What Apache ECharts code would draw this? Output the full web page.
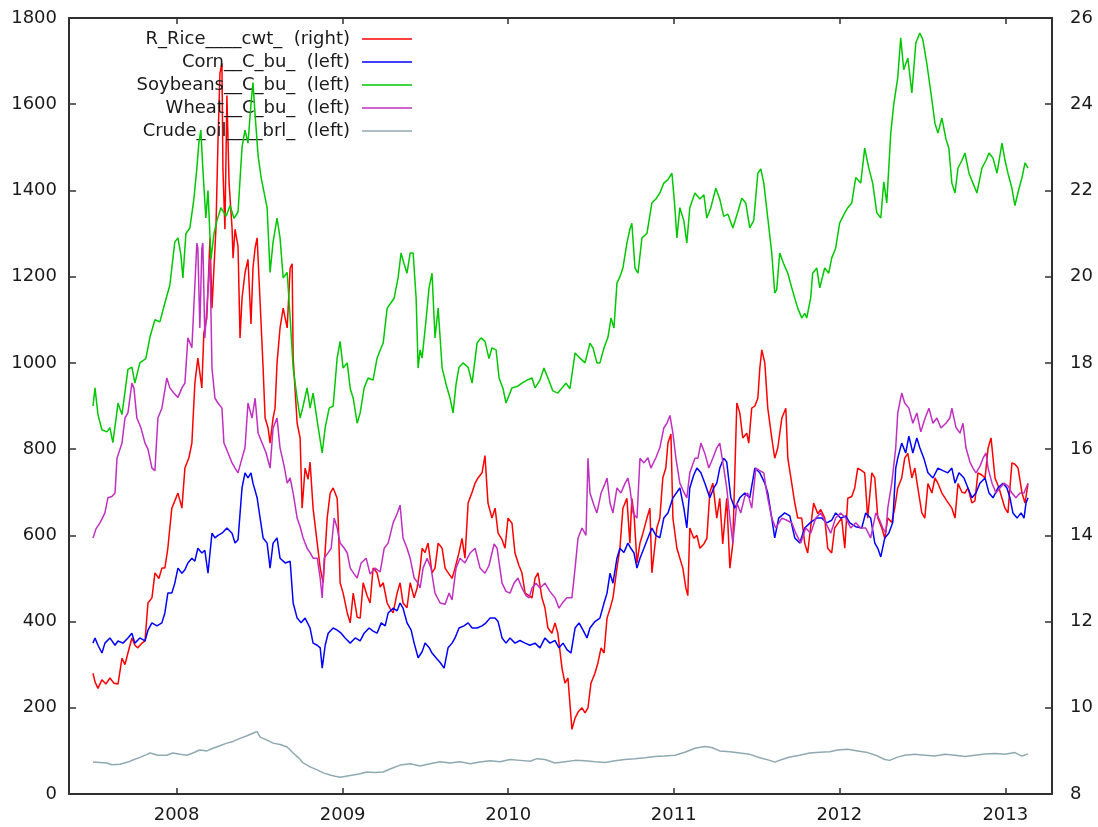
<!DOCTYPE html>
<html>
<head>
<meta charset="utf-8">
<script src="https://cdn.jsdelivr.net/npm/echarts@6/dist/echarts.min.js"></script>
<style>
html,body{margin:0;padding:0;background:#fff;}
#chart{width:1098px;height:827px;}
</style>
</head>
<body>
<div id="chart"></div>
<script>
// Series names (legend labels)
const seriesNames = [
  "R_Rice____cwt_  (right)",
  "Corn__C_bu_  (left)",
  "Soybeans__C_bu_  (left)",
  "Wheat__C_bu_  (left)",
  "Crude_oil____brl_  (left)"
];
const seriesColors = ["#ff0000", "#0000ff", "#00c800", "#c030c0", "#8fa9b3"];

// time as decimal year, value
const rice = [
[2007.495,10.8],[2007.507,10.6],[2007.525,10.45],[2007.549,10.65],[2007.573,10.55],[2007.597,10.69],[2007.622,10.57],[2007.646,10.55],
[2007.670,11.15],[2007.688,11.0],[2007.706,11.27],[2007.730,11.62],[2007.748,11.45],[2007.766,11.39],[2007.791,11.5],[2007.809,11.55],
[2007.827,12.43],[2007.851,12.55],[2007.869,13.13],[2007.893,13.0],[2007.911,13.24],[2007.929,13.24],[2007.947,13.7],[2007.971,14.63],
[2007.989,14.8],[2008.008,14.98],[2008.032,14.63],[2008.050,15.56],[2008.074,15.8],[2008.092,16.14],[2008.110,17.53],[2008.128,18.11],
[2008.152,17.42],[2008.164,18.69],[2008.182,19.04],[2008.195,20.3],[2008.201,20.9],[2008.213,19.27],[2008.237,21.13],[2008.249,23.1],
[2008.261,24.72],[2008.273,24.95],[2008.279,22.5],[2008.291,21.1],[2008.303,24.2],[2008.316,22.17],[2008.334,21.13],[2008.340,20.43],
[2008.352,21.1],[2008.370,20.7],[2008.382,18.58],[2008.394,19.5],[2008.412,20.09],[2008.430,20.4],[2008.448,18.9],[2008.460,20.2],
[2008.473,20.67],[2008.485,20.9],[2008.497,19.9],[2008.509,18.9],[2008.521,17.88],[2008.533,16.72],[2008.551,16.49],[2008.563,16.14],
[2008.581,16.72],[2008.593,16.95],[2008.605,18.0],[2008.623,18.81],[2008.642,19.27],[2008.654,19.04],[2008.666,18.81],[2008.684,20.2],
[2008.696,20.3],[2008.702,18.11],[2008.726,16.6],[2008.744,16.26],[2008.756,14.63],[2008.774,15.56],[2008.792,15.3],[2008.804,15.7],
[2008.822,14.63],[2008.847,13.82],[2008.865,13.24],[2008.883,12.9],[2008.907,14.4],[2008.925,14.98],[2008.943,15.1],[2008.967,14.86],
[2008.973,14.4],[2008.985,12.9],[2009.003,12.66],[2009.028,12.2],[2009.046,11.97],[2009.064,12.66],[2009.088,12.1],[2009.106,12.08],
[2009.124,12.9],[2009.148,12.6],[2009.166,12.43],[2009.184,13.24],[2009.208,13.13],[2009.227,12.8],[2009.245,12.9],[2009.269,12.43],
[2009.287,12.3],[2009.305,12.2],[2009.329,12.66],[2009.347,12.9],[2009.365,12.43],[2009.389,12.32],[2009.408,12.9],[2009.432,12.55],
[2009.450,12.78],[2009.468,13.24],[2009.480,13.7],[2009.498,13.6],[2009.516,13.82],[2009.540,13.13],[2009.558,13.24],[2009.577,13.82],
[2009.601,13.7],[2009.619,13.24],[2009.643,13.1],[2009.661,13.0],[2009.679,13.24],[2009.703,13.6],[2009.721,13.93],[2009.739,13.47],
[2009.758,14.75],[2009.782,15.0],[2009.800,15.21],[2009.818,15.33],[2009.842,15.45],[2009.860,15.85],[2009.878,14.75],[2009.902,14.4],
[2009.921,14.63],[2009.939,14.05],[2009.963,13.9],[2009.981,13.7],[2009.999,14.4],[2010.023,14.28],[2010.041,13.59],[2010.065,13.3],
[2010.083,13.13],[2010.102,12.66],[2010.126,12.6],[2010.144,12.55],[2010.162,13.0],[2010.180,13.13],[2010.204,12.55],[2010.222,12.32],
[2010.240,11.85],[2010.264,11.73],[2010.283,11.97],[2010.300,11.73],[2010.325,10.92],[2010.343,10.57],[2010.361,10.69],[2010.385,9.5],
[2010.404,9.76],[2010.422,9.9],[2010.446,10.0],[2010.464,9.88],[2010.482,10.0],[2010.500,10.57],[2010.524,10.8],[2010.542,11.04],
[2010.561,11.39],[2010.579,11.27],[2010.597,12.08],[2010.615,12.3],[2010.633,12.55],[2010.657,13.24],[2010.675,13.7],[2010.693,14.63],
[2010.717,14.86],[2010.735,13.82],[2010.747,14.86],[2010.760,14.5],[2010.778,13.36],[2010.796,13.82],[2010.814,14.05],[2010.838,14.4],
[2010.856,14.63],[2010.868,13.13],[2010.898,14.17],[2010.916,14.4],[2010.934,15.33],[2010.952,15.56],[2010.965,16.14],[2010.983,16.35],
[2010.995,14.4],[2011.019,13.7],[2011.037,13.47],[2011.055,13.24],[2011.073,12.78],[2011.085,12.6],[2011.097,14.17],[2011.121,13.93],
[2011.140,14.0],[2011.158,13.7],[2011.182,13.8],[2011.200,13.93],[2011.218,15.0],[2011.236,15.21],[2011.260,14.4],[2011.278,14.86],
[2011.296,13.8],[2011.320,14.86],[2011.339,13.24],[2011.357,13.82],[2011.381,17.07],[2011.399,16.84],[2011.417,16.26],[2011.441,16.37],
[2011.453,16.14],[2011.471,16.95],[2011.490,17.0],[2011.508,17.18],[2011.520,17.88],[2011.532,18.3],[2011.550,18.0],[2011.568,16.95],
[2011.592,16.26],[2011.610,15.79],[2011.628,16.02],[2011.653,16.72],[2011.677,16.95],[2011.689,15.79],[2011.713,15.2],[2011.731,14.75],
[2011.749,14.4],[2011.773,14.4],[2011.791,13.82],[2011.809,13.59],[2011.827,14.2],[2011.845,14.75],[2011.870,14.5],[2011.888,14.6],
[2011.912,14.4],[2011.930,13.7],[2011.954,13.59],[2011.972,14.17],[2011.996,14.3],[2012.014,14.4],[2012.033,13.7],[2012.051,14.86],
[2012.075,14.9],[2012.093,15.1],[2012.111,15.56],[2012.135,15.5],[2012.153,15.45],[2012.171,14.4],[2012.196,15.45],[2012.214,15.33],
[2012.232,14.4],[2012.256,14.17],[2012.274,13.93],[2012.292,14.4],[2012.316,14.3],[2012.334,14.63],[2012.352,15.1],[2012.376,15.33],
[2012.394,15.79],[2012.413,15.9],[2012.437,15.33],[2012.455,15.56],[2012.473,15.1],[2012.497,14.52],[2012.515,14.4],[2012.534,15.2],
[2012.558,14.98],[2012.576,15.33],[2012.594,15.21],[2012.618,14.98],[2012.648,14.8],[2012.678,14.63],[2012.697,14.4],[2012.715,15.2],
[2012.739,15.0],[2012.757,14.98],[2012.775,15.1],[2012.799,14.75],[2012.817,14.8],[2012.835,15.45],[2012.859,15.4],[2012.878,15.33],
[2012.896,16.02],[2012.914,16.26],[2012.938,15.33],[2012.962,15.1],[2012.980,14.86],[2012.998,14.63],[2013.016,14.52],[2013.040,15.68],
[2013.058,15.65],[2013.077,15.56],[2013.101,14.98],[2013.119,14.75],[2013.137,15.2]
];

const corn = [
[2007.495,350],[2007.507,362],[2007.525,345],[2007.549,327],[2007.567,350],[2007.597,362],[2007.628,345],[2007.646,355],
[2007.676,350],[2007.706,362],[2007.730,373],[2007.748,350],[2007.778,362],[2007.809,355],[2007.827,380],[2007.851,397],
[2007.881,390],[2007.911,397],[2007.929,420],[2007.947,466],[2007.971,466],[2007.989,489],[2008.008,524],[2008.032,512],
[2008.050,520],[2008.068,536],[2008.092,547],[2008.110,540],[2008.128,570],[2008.152,559],[2008.170,565],[2008.189,512],
[2008.213,605],[2008.231,594],[2008.249,600],[2008.273,605],[2008.303,617],[2008.334,605],[2008.352,582],[2008.370,590],
[2008.394,710],[2008.412,745],[2008.430,733],[2008.448,745],[2008.460,721],[2008.485,687],[2008.503,640],[2008.521,594],
[2008.545,582],[2008.563,524],[2008.581,582],[2008.605,594],[2008.623,547],[2008.654,536],[2008.684,540],[2008.702,443],
[2008.726,408],[2008.750,397],[2008.774,408],[2008.804,385],[2008.822,350],[2008.847,345],[2008.865,339],[2008.877,292],
[2008.895,345],[2008.913,373],[2008.943,385],[2008.967,380],[2008.991,373],[2009.015,362],[2009.046,350],[2009.076,362],
[2009.106,355],[2009.130,373],[2009.160,385],[2009.184,378],[2009.208,373],[2009.233,397],[2009.257,390],[2009.275,420],
[2009.305,431],[2009.329,425],[2009.347,443],[2009.365,431],[2009.389,397],[2009.414,380],[2009.432,350],[2009.456,316],
[2009.480,330],[2009.498,350],[2009.522,340],[2009.540,327],[2009.564,316],[2009.589,305],[2009.613,292],[2009.637,339],
[2009.661,350],[2009.679,362],[2009.703,385],[2009.733,390],[2009.758,397],[2009.782,385],[2009.812,385],[2009.842,390],
[2009.866,397],[2009.890,408],[2009.921,408],[2009.939,400],[2009.963,362],[2009.987,350],[2010.011,362],[2010.041,350],
[2010.071,356],[2010.102,350],[2010.132,345],[2010.162,350],[2010.192,339],[2010.222,362],[2010.252,350],[2010.283,356],
[2010.307,339],[2010.331,350],[2010.355,335],[2010.379,327],[2010.404,385],[2010.428,397],[2010.452,380],[2010.476,362],
[2010.494,385],[2010.524,400],[2010.554,408],[2010.579,443],[2010.597,466],[2010.615,512],[2010.633,489],[2010.657,547],
[2010.675,570],[2010.699,560],[2010.723,582],[2010.741,570],[2010.760,559],[2010.778,524],[2010.796,547],[2010.820,570],
[2010.844,594],[2010.868,617],[2010.892,600],[2010.916,594],[2010.940,640],[2010.965,652],[2010.995,687],[2011.019,700],
[2011.037,710],[2011.061,663],[2011.079,617],[2011.097,710],[2011.121,740],[2011.140,756],[2011.164,745],[2011.188,721],
[2011.218,687],[2011.242,710],[2011.260,721],[2011.278,756],[2011.302,779],[2011.320,770],[2011.345,687],[2011.369,663],
[2011.399,687],[2011.429,698],[2011.459,687],[2011.490,756],[2011.520,745],[2011.550,721],[2011.568,698],[2011.592,640],
[2011.610,594],[2011.634,640],[2011.670,652],[2011.701,645],[2011.731,594],[2011.761,582],[2011.791,617],[2011.827,630],
[2011.864,640],[2011.894,640],[2011.924,629],[2011.954,635],[2011.978,652],[2012.008,640],[2012.039,645],[2012.063,629],
[2012.099,620],[2012.135,617],[2012.159,652],[2012.189,640],[2012.214,582],[2012.232,570],[2012.250,550],[2012.274,594],
[2012.298,605],[2012.322,630],[2012.340,756],[2012.352,779],[2012.376,814],[2012.400,791],[2012.419,830],[2012.443,791],
[2012.467,826],[2012.485,803],[2012.509,779],[2012.534,745],[2012.564,733],[2012.594,756],[2012.624,750],[2012.654,745],
[2012.678,756],[2012.697,721],[2012.721,745],[2012.751,733],[2012.775,710],[2012.799,687],[2012.823,698],[2012.847,721],
[2012.878,733],[2012.902,698],[2012.926,687],[2012.956,710],[2012.986,721],[2013.010,710],[2013.028,687],[2013.046,652],
[2013.071,640],[2013.095,652],[2013.113,640],[2013.125,675],[2013.137,687]
];

const soybeans = [
[2007.495,900],[2007.507,942],[2007.525,880],[2007.549,845],[2007.579,840],[2007.597,850],[2007.615,815],[2007.634,870],
[2007.646,907],[2007.670,880],[2007.706,985],[2007.730,990],[2007.748,953],[2007.778,1000],[2007.814,1010],[2007.839,1060],
[2007.869,1100],[2007.899,1095],[2007.929,1139],[2007.959,1180],[2007.971,1220],[2007.989,1280],[2008.008,1290],[2008.026,1250],
[2008.038,1197],[2008.056,1300],[2008.080,1313],[2008.104,1380],[2008.122,1452],[2008.134,1510],[2008.146,1540],[2008.158,1450],
[2008.176,1336],[2008.189,1400],[2008.207,1240],[2008.225,1300],[2008.243,1330],[2008.267,1360],[2008.298,1340],[2008.322,1365],
[2008.346,1335],[2008.370,1350],[2008.394,1500],[2008.412,1540],[2008.430,1510],[2008.448,1600],[2008.460,1650],[2008.472,1580],
[2008.491,1480],[2008.509,1430],[2008.527,1395],[2008.545,1360],[2008.563,1210],[2008.581,1280],[2008.605,1336],[2008.623,1290],
[2008.642,1197],[2008.666,1210],[2008.684,1104],[2008.702,988],[2008.726,918],[2008.744,872],[2008.762,900],[2008.786,942],
[2008.804,895],[2008.822,930],[2008.853,850],[2008.877,791],[2008.895,850],[2008.919,895],[2008.943,900],[2008.967,1011],
[2008.985,1050],[2009.003,988],[2009.028,1000],[2009.046,940],[2009.064,918],[2009.088,860],[2009.106,884],[2009.130,942],
[2009.154,965],[2009.184,960],[2009.208,1011],[2009.227,1030],[2009.245,1046],[2009.269,1127],[2009.293,1140],[2009.311,1150],
[2009.335,1197],[2009.353,1255],[2009.371,1230],[2009.389,1208],[2009.408,1255],[2009.426,1255],[2009.444,1150],[2009.456,988],
[2009.468,1030],[2009.480,1011],[2009.504,1100],[2009.522,1174],[2009.540,1208],[2009.558,1058],[2009.577,1127],[2009.601,988],
[2009.625,950],[2009.649,918],[2009.667,884],[2009.685,950],[2009.703,990],[2009.727,1000],[2009.758,990],[2009.782,953],
[2009.812,1046],[2009.836,1058],[2009.860,1050],[2009.884,1010],[2009.902,1035],[2009.927,1030],[2009.945,965],[2009.969,940],
[2009.987,907],[2010.023,942],[2010.053,945],[2010.083,953],[2010.114,960],[2010.144,965],[2010.162,942],[2010.192,960],
[2010.216,988],[2010.240,965],[2010.270,935],[2010.300,930],[2010.325,942],[2010.349,953],[2010.373,940],[2010.404,1023],
[2010.434,1011],[2010.464,1000],[2010.494,1046],[2010.512,1035],[2010.536,1000],[2010.554,1000],[2010.579,1035],[2010.603,1060],
[2010.621,1104],[2010.639,1081],[2010.657,1185],[2010.675,1200],[2010.693,1220],[2010.717,1278],[2010.735,1310],[2010.747,1324],
[2010.766,1220],[2010.784,1208],[2010.808,1290],[2010.838,1300],[2010.868,1371],[2010.892,1380],[2010.916,1394],[2010.940,1417],
[2010.965,1425],[2010.989,1440],[2011.007,1360],[2011.019,1290],[2011.037,1360],[2011.061,1330],[2011.079,1278],[2011.097,1360],
[2011.128,1394],[2011.158,1380],[2011.182,1390],[2011.200,1336],[2011.224,1360],[2011.254,1405],[2011.278,1380],[2011.302,1340],
[2011.327,1345],[2011.357,1313],[2011.387,1350],[2011.411,1382],[2011.435,1371],[2011.459,1313],[2011.483,1330],[2011.508,1440],
[2011.526,1450],[2011.544,1417],[2011.568,1336],[2011.592,1255],[2011.610,1162],[2011.622,1170],[2011.640,1255],[2011.664,1230],
[2011.689,1208],[2011.713,1174],[2011.731,1150],[2011.749,1127],[2011.773,1104],[2011.791,1115],[2011.803,1104],[2011.827,1150],
[2011.839,1208],[2011.864,1220],[2011.882,1174],[2011.912,1220],[2011.936,1208],[2011.954,1243],[2011.978,1266],[2012.002,1324],
[2012.033,1348],[2012.051,1360],[2012.075,1371],[2012.099,1430],[2012.129,1417],[2012.153,1498],[2012.177,1453],[2012.201,1417],
[2012.226,1348],[2012.250,1336],[2012.268,1420],[2012.286,1371],[2012.310,1533],[2012.328,1600],[2012.352,1661],[2012.370,1754],
[2012.388,1680],[2012.413,1707],[2012.437,1626],[2012.461,1742],[2012.485,1765],[2012.503,1750],[2012.527,1695],[2012.552,1626],
[2012.576,1556],[2012.594,1533],[2012.618,1568],[2012.642,1520],[2012.660,1498],[2012.678,1417],[2012.697,1394],[2012.715,1452],
[2012.739,1470],[2012.757,1487],[2012.781,1440],[2012.805,1417],[2012.829,1394],[2012.859,1452],[2012.884,1470],[2012.902,1487],
[2012.926,1475],[2012.950,1440],[2012.980,1510],[2012.998,1470],[2013.016,1440],[2013.040,1405],[2013.058,1365],[2013.083,1405],
[2013.101,1430],[2013.119,1464],[2013.137,1452]
];

const wheat = [
[2007.495,594],[2007.513,615],[2007.537,629],[2007.567,652],[2007.585,687],[2007.609,690],[2007.628,698],[2007.640,779],
[2007.658,800],[2007.670,814],[2007.688,872],[2007.706,884],[2007.730,953],[2007.742,942],[2007.760,872],[2007.785,849],
[2007.809,814],[2007.827,800],[2007.851,756],[2007.869,750],[2007.887,872],[2007.911,895],[2007.941,965],[2007.959,942],
[2007.983,930],[2008.008,920],[2008.032,942],[2008.050,953],[2008.068,1058],[2008.092,1035],[2008.122,1278],[2008.128,1266],
[2008.140,1081],[2008.152,1266],[2008.158,1278],[2008.170,1058],[2008.182,1127],[2008.201,1243],[2008.213,988],[2008.231,918],
[2008.249,907],[2008.273,895],[2008.285,814],[2008.310,791],[2008.334,768],[2008.352,756],[2008.370,745],[2008.394,779],
[2008.412,803],[2008.430,907],[2008.454,872],[2008.473,918],[2008.491,837],[2008.515,814],[2008.539,791],[2008.563,756],
[2008.581,849],[2008.605,872],[2008.623,803],[2008.648,760],[2008.666,721],[2008.684,733],[2008.702,698],[2008.726,640],
[2008.744,620],[2008.762,594],[2008.786,570],[2008.804,560],[2008.822,547],[2008.847,547],[2008.865,500],[2008.877,455],
[2008.889,547],[2008.913,560],[2008.931,570],[2008.949,640],[2008.967,617],[2008.985,582],[2009.010,570],[2009.028,559],
[2009.046,524],[2009.070,510],[2009.088,501],[2009.112,536],[2009.142,547],[2009.166,510],[2009.196,524],[2009.227,515],
[2009.251,570],[2009.275,582],[2009.305,629],[2009.329,650],[2009.347,670],[2009.365,594],[2009.389,570],[2009.408,547],
[2009.432,501],[2009.456,489],[2009.468,478],[2009.486,524],[2009.510,547],[2009.534,524],[2009.558,466],[2009.589,443],
[2009.619,440],[2009.643,466],[2009.661,450],[2009.685,524],[2009.709,547],[2009.739,536],[2009.770,559],[2009.800,570],
[2009.830,524],[2009.860,512],[2009.884,530],[2009.915,580],[2009.933,570],[2009.963,489],[2009.987,470],[2010.011,466],
[2010.035,489],[2010.059,501],[2010.083,478],[2010.108,460],[2010.126,455],[2010.144,478],[2010.168,489],[2010.192,478],
[2010.222,489],[2010.252,470],[2010.283,455],[2010.307,431],[2010.331,445],[2010.355,455],[2010.385,455],[2010.404,524],
[2010.422,594],[2010.446,617],[2010.470,600],[2010.482,779],[2010.494,698],[2010.518,670],[2010.536,652],[2010.561,698],
[2010.585,720],[2010.597,733],[2010.615,675],[2010.633,652],[2010.657,710],[2010.681,698],[2010.705,720],[2010.723,733],
[2010.735,710],[2010.754,652],[2010.778,640],[2010.796,779],[2010.820,768],[2010.844,780],[2010.862,756],[2010.892,780],
[2010.916,803],[2010.940,849],[2010.959,860],[2010.977,878],[2010.995,837],[2011.013,779],[2011.037,721],[2011.061,700],
[2011.079,687],[2011.097,745],[2011.128,779],[2011.146,779],[2011.164,814],[2011.188,790],[2011.212,756],[2011.236,779],
[2011.260,803],[2011.278,814],[2011.302,756],[2011.320,710],[2011.339,640],[2011.357,582],[2011.381,675],[2011.405,652],
[2011.429,690],[2011.447,698],[2011.471,663],[2011.496,756],[2011.520,750],[2011.544,745],[2011.562,698],[2011.592,640],
[2011.616,617],[2011.653,640],[2011.683,635],[2011.713,629],[2011.737,605],[2011.767,582],[2011.797,617],[2011.827,605],
[2011.858,640],[2011.888,652],[2011.918,629],[2011.948,605],[2011.978,640],[2012.008,652],[2012.039,640],[2012.069,617],
[2012.099,629],[2012.129,617],[2012.159,617],[2012.189,594],[2012.220,652],[2012.238,640],[2012.262,617],[2012.280,605],
[2012.292,663],[2012.316,721],[2012.340,803],[2012.352,884],[2012.376,930],[2012.394,907],[2012.419,895],[2012.443,860],
[2012.467,884],[2012.491,840],[2012.515,870],[2012.540,895],[2012.564,860],[2012.588,872],[2012.612,849],[2012.642,860],
[2012.666,872],[2012.678,895],[2012.703,850],[2012.727,837],[2012.745,860],[2012.763,803],[2012.787,770],[2012.805,756],
[2012.823,745],[2012.847,760],[2012.866,779],[2012.884,791],[2012.896,756],[2012.920,721],[2012.944,698],[2012.968,710],
[2012.992,721],[2013.016,715],[2013.040,698],[2013.064,687],[2013.089,698],[2013.113,698],[2013.137,721]
];

const crudeOil = [
[2007.495,74],[2007.537,73],[2007.579,72],[2007.609,68],[2007.658,69],[2007.706,74],[2007.736,79],[2007.778,85],
[2007.821,92],[2007.839,95],[2007.887,90],[2007.941,90],[2007.977,95],[2008.020,92],[2008.062,90],[2008.098,95],
[2008.140,102],[2008.182,100],[2008.219,106],[2008.261,112],[2008.303,118],[2008.340,122],[2008.382,129],[2008.424,135],
[2008.460,141],[2008.485,145],[2008.503,132],[2008.545,125],[2008.581,118],[2008.623,115],[2008.666,109],[2008.702,95],
[2008.732,85],[2008.762,72],[2008.804,63],[2008.847,56],[2008.883,49],[2008.925,44],[2008.955,41],[2008.985,39],
[2009.028,42],[2009.064,44],[2009.106,47],[2009.148,51],[2009.196,50],[2009.245,51],[2009.287,58],[2009.347,67],
[2009.408,70],[2009.468,65],[2009.528,70],[2009.589,75],[2009.649,72],[2009.709,75],[2009.770,70],[2009.830,74],
[2009.890,77],[2009.951,75],[2010.011,80],[2010.071,78],[2010.132,76],[2010.174,82],[2010.222,80],[2010.283,72],
[2010.343,75],[2010.404,78],[2010.464,77],[2010.524,75],[2010.585,73],[2010.645,77],[2010.705,80],[2010.766,82],
[2010.826,84],[2010.886,87],[2010.946,88],[2011.007,90],[2011.067,97],[2011.128,106],[2011.188,110],[2011.230,108],
[2011.278,100],[2011.339,98],[2011.399,95],[2011.459,92],[2011.520,84],[2011.580,78],[2011.610,74],[2011.653,80],
[2011.701,86],[2011.761,90],[2011.821,95],[2011.882,97],[2011.942,98],[2011.990,102],[2012.051,104],[2012.111,100],
[2012.171,96],[2012.232,88],[2012.274,80],[2012.304,78],[2012.346,85],[2012.394,90],[2012.455,92],[2012.515,90],
[2012.576,88],[2012.636,92],[2012.697,90],[2012.757,87],[2012.817,90],[2012.878,93],[2012.938,94],[2012.998,92],
[2013.058,96],[2013.101,88],[2013.137,93]
];

// axis ranges
const xRange = [2007.350, 2013.282];
const leftRange = [0, 1800, 200];
const rightRange = [8, 26, 2];

function ty(t) {
  const y = Math.floor(t);
  const s = Date.UTC(y, 0, 1), e = Date.UTC(y + 1, 0, 1);
  return s + (t - y) * (e - s);
}
const toSeries = arr => arr.map(p => [ty(p[0]), p[1]]);

const FONT = "DejaVu Sans";
const FS = 18;
const TXT = "#1a1a1a";
const FRAME = "#303030";
const YEAR = 365.25 * 24 * 3600 * 1000;

const chart = echarts.init(document.getElementById('chart'));

const datasets = [rice, corn, soybeans, wheat, crudeOil];
const series = datasets.map((d, i) => ({
  name: seriesNames[i],
  type: 'line',
  yAxisIndex: i === 0 ? 1 : 0,
  xAxisIndex: 0,
  data: toSeries(d),
  showSymbol: false,
  symbol: 'none',
  smooth: false,
  animation: false,
  lineStyle: { width: 1.5, color: seriesColors[i] },
  itemStyle: { color: seriesColors[i] },
  z: 2 + i
}));

function yearLabel(v) {
  const d = new Date(v);
  if (d.getUTCMonth() === 0 && d.getUTCDate() === 1) return String(d.getUTCFullYear());
  return '';
}

const xCommon = {
  type: 'time',
  min: ty(xRange[0]),
  max: ty(xRange[1]),
  splitNumber: 6,
  minInterval: YEAR,
  maxInterval: YEAR,
  splitLine: { show: false },
  axisLine: { show: true, onZero: false, lineStyle: { color: FRAME, width: 2 } },
  axisTick: { show: true, inside: true, length: 6, lineStyle: { color: FRAME, width: 1.5 } }
};

chart.setOption({
  animation: false,
  useUTC: true,
  backgroundColor: '#ffffff',
  grid: { left: 69, right: 46, top: 18, bottom: 33, containLabel: false },
  legend: {
    show: true,
    orient: 'vertical',
    left: 100,
    top: 30,
    padding: 0,
    itemGap: 5,
    align: 'right',
    icon: 'rect',
    itemWidth: 50,
    itemHeight: 1.5,
    selectedMode: false,
    data: seriesNames,
    formatter: name => '{a|' + name + '}',
    textStyle: {
      rich: {
        a: { fontFamily: FONT, fontSize: FS, color: TXT, width: 250, align: 'right', padding: [0, 7, 0, 0], lineHeight: 19 }
      }
    }
  },
  xAxis: [
    Object.assign({}, xCommon, {
      position: 'bottom',
      axisLabel: {
        show: true, formatter: yearLabel, fontFamily: FONT, fontSize: FS, color: TXT, margin: 12,
        showMinLabel: false, showMaxLabel: false, hideOverlap: false
      }
    }),
    Object.assign({}, xCommon, {
      position: 'top',
      axisLabel: { show: false }
    })
  ],
  yAxis: [
    {
      type: 'value', position: 'left',
      min: leftRange[0], max: leftRange[1], interval: leftRange[2],
      splitLine: { show: false },
      axisLine: { show: true, onZero: false, lineStyle: { color: FRAME, width: 2 } },
      axisTick: { show: true, inside: true, length: 7, lineStyle: { color: FRAME, width: 1.5 } },
      axisLabel: { fontFamily: FONT, fontSize: FS, color: TXT, margin: 12, formatter: v => String(v) }
    },
    {
      type: 'value', position: 'right',
      min: rightRange[0], max: rightRange[1], interval: rightRange[2],
      splitLine: { show: false },
      axisLine: { show: true, onZero: false, lineStyle: { color: FRAME, width: 2 } },
      axisTick: { show: true, inside: true, length: 7, lineStyle: { color: FRAME, width: 1.5 } },
      axisLabel: { fontFamily: FONT, fontSize: FS, color: TXT, margin: 18, formatter: v => String(v) }
    }
  ],
  series: series
});
</script>
</body>
</html>
